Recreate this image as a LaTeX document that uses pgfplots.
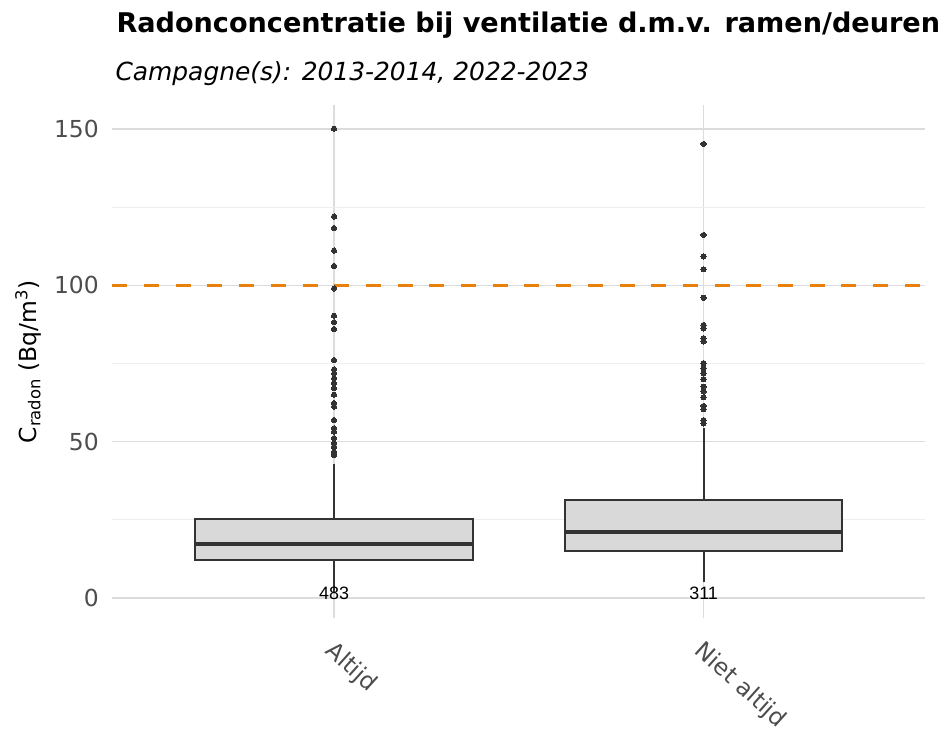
\documentclass[border=0pt]{standalone}
\usepackage{fontspec}
\setmainfont{DejaVu Sans}
\newfontfamily\narrowfont{Liberation Sans}
\usepackage{pgfplots}
\pgfplotsset{compat=1.18}
\usepgfplotslibrary{statistics}
\definecolor{boxfill}{HTML}{D9D9D9}
\definecolor{boxedge}{HTML}{333333}
\definecolor{gridmaj}{HTML}{DCDCDC}
\definecolor{gridmin}{HTML}{EEEEEE}
\definecolor{ticktxt}{HTML}{4D4D4D}
\definecolor{refline}{HTML}{E8800E}
\begin{document}
\begin{tikzpicture}
\useasboundingbox (-112.3bp,-112.7bp) rectangle (836.7bp,618.3bp);
\begin{axis}[
  at={(0,0)}, anchor=south west, scale only axis,
  width=813bp, height=512.8bp,
  xmin=40, xmax=260, ymin=-6.5, ymax=157.5,
  axis line style={draw=none}, tick style={draw=none},
  xtick={100,200}, xticklabels={Altijd,Niet altijd},
  ytick={0,50,100,150}, minor ytick={25,75,125},
  xmajorgrids, ymajorgrids, yminorgrids,
  major grid style={gridmaj, line width=1.2bp},
  minor grid style={gridmin, line width=0.9bp},
  /pgf/number format/assume math mode=true,
  tick label style={font=\fontsize{23.5}{26}\selectfont, text=ticktxt},
  yticklabel style={xshift=-10bp},
  xticklabel style={xshift=2bp, yshift=-16bp, rotate=-42, anchor=north west},
  ylabel={C\textsubscript{radon} (Bq/m\textsuperscript{3})},
  every axis y label/.style={at={(axis description cs:0,0.5)}, xshift=-84bp, anchor=center, rotate=90, font=\fontsize{23.5}{26}\selectfont},
  clip=false,
  boxplot/draw direction=y,
  boxplot/every median/.style={line width=4.2bp},
  boxplot/every whisker/.style={line width=1.9bp, draw=boxedge},
  boxplot/draw/lower whisker/.code={\draw[/pgfplots/boxplot/every whisker/.try] (boxplot box cs:\pgfplotsboxplotvalue{lower whisker},0.5) -- (boxplot box cs:\pgfplotsboxplotvalue{lower quartile},0.5);},
  boxplot/draw/upper whisker/.code={\draw[/pgfplots/boxplot/every whisker/.try] (boxplot box cs:\pgfplotsboxplotvalue{upper whisker},0.5) -- (boxplot box cs:\pgfplotsboxplotvalue{upper quartile},0.5);},
]
\addplot[refline, line width=3.5bp, dash pattern=on 15bp off 16.7bp] coordinates {(40,100) (260,100)};
\addplot[boxplot prepared={draw position=100, lower whisker=2, lower quartile=12.2, median=17.3, upper quartile=25.2, upper whisker=43, box extend=75},
  draw=boxedge, fill=boxfill, line width=1.9bp, solid,
  mark=*, mark size=2.6bp, mark options={fill=boxedge, draw=boxedge, line width=0pt, solid}]
  table[row sep=\\, y index=0] {y\\ 150.1\\ 122.0\\ 118.3\\ 111.1\\ 106.2\\ 99.0\\ 90.3\\ 88.2\\ 86.0\\ 76.1\\ 73.1\\ 71.8\\ 70.2\\ 68.7\\ 67.1\\ 65.0\\ 62.3\\ 61.2\\ 56.9\\ 54.3\\ 53.2\\ 51.1\\ 49.5\\ 48.4\\ 46.8\\ 45.7\\};
\addplot[boxplot prepared={draw position=200, lower whisker=5, lower quartile=15.0, median=21.1, upper quartile=31.2, upper whisker=54.4, box extend=75},
  draw=boxedge, fill=boxfill, line width=1.9bp, solid,
  mark=*, mark size=2.6bp, mark options={fill=boxedge, draw=boxedge, line width=0pt, solid}]
  table[row sep=\\, y index=0] {y\\ 145.2\\ 116.1\\ 109.2\\ 105.1\\ 96.0\\ 87.3\\ 86.2\\ 83.1\\ 82.0\\ 75.1\\ 73.5\\ 71.9\\ 70.0\\ 67.6\\ 66.0\\ 64.2\\ 61.4\\ 60.4\\ 56.9\\ 55.8\\};
\node[font=\narrowfont\fontsize{18}{20}\selectfont] at (axis cs:100,1.6) {483};
\node[font=\narrowfont\fontsize{18}{20}\selectfont] at (axis cs:200,1.6) {311};
\end{axis}
\node[anchor=base west, font=\bfseries\fontsize{27.2}{30}\selectfont] at (0.7bp,585.3bp) {Radonconcentratie bij ventilatie d.m.v. ramen/deuren};
\node[anchor=base west, font=\itshape\fontsize{25}{28}\selectfont] at (-0.3bp,537.3bp) {Campagne(s): 2013-2014, 2022-2023};
\end{tikzpicture}
\end{document}
